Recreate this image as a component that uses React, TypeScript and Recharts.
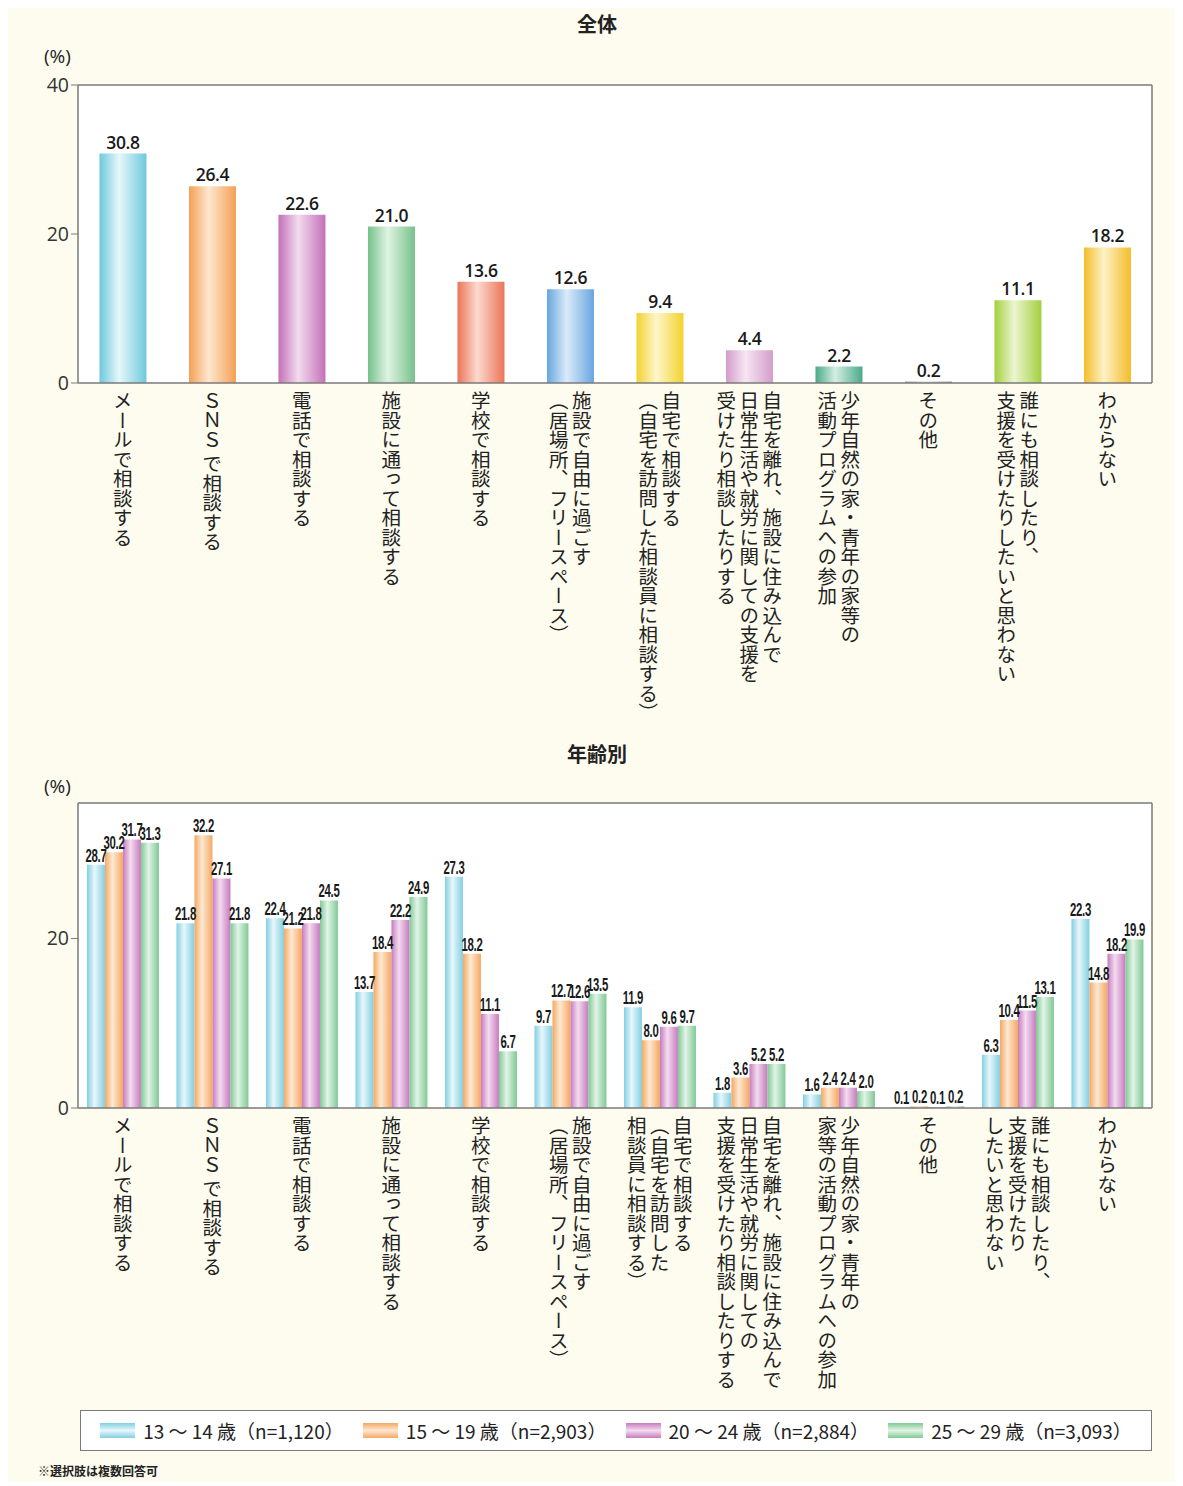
import { BarChart, Bar, XAxis, YAxis, Cell, LabelList, CartesianGrid } from 'recharts';

// 全体
const TOP_CATEGORIES = [
  'メールで相談する',
  'ＳＮＳ で相談する',
  '電話で相談する',
  '施設に通って相談する',
  '学校で相談する',
  '施設で自由に過ごす\n（居場所、フリースペース）',
  '自宅で相談する\n（自宅を訪問した相談員に相談する）',
  '自宅を離れ、施設に住み込んで\n日常生活や就労に関しての支援を\n受けたり相談したりする',
  '少年自然の家・青年の家等の\n活動プログラムへの参加',
  'その他',
  '誰にも相談したり、\n支援を受けたりしたいと思わない',
  'わからない',
];
const TOP_VALUES = [30.8, 26.4, 22.6, 21.0, 13.6, 12.6, 9.4, 4.4, 2.2, 0.2, 11.1, 18.2];
const TOP_COLORS = [
  ['#6ec9dc', '#e6f7fb'],
  ['#f4a055', '#fde7cf'],
  ['#c470b8', '#f2dbee'],
  ['#76c28a', '#e0f3e4'],
  ['#eb7457', '#fcdacf'],
  ['#67a6e0', '#dbebfa'],
  ['#f3d22e', '#fdf6ca'],
  ['#d49ccb', '#f6e6f3'],
  ['#4aa98a', '#d4efe4'],
  ['#999999', '#dddddd'],
  ['#a3cf3e', '#ecf6d1'],
  ['#f4bd2a', '#fdf1c6'],
];
const TOP_TICKS = [0, 20, 40];

// 年齢別
const AGE_CATEGORIES = [
  'メールで相談する',
  'ＳＮＳ で相談する',
  '電話で相談する',
  '施設に通って相談する',
  '学校で相談する',
  '施設で自由に過ごす\n（居場所、フリースペース）',
  '自宅で相談する\n（自宅を訪問した\n相談員に相談する）',
  '自宅を離れ、施設に住み込んで\n日常生活や就労に関しての\n支援を受けたり相談したりする',
  '少年自然の家・青年の\n家等の活動プログラムへの参加',
  'その他',
  '誰にも相談したり、\n支援を受けたり\nしたいと思わない',
  'わからない',
];
const AGE_13_14 = [28.7, 21.8, 22.4, 13.7, 27.3, 9.7, 11.9, 1.8, 1.6, 0.1, 6.3, 22.3];
const AGE_15_19 = [30.2, 32.2, 21.2, 18.4, 18.2, 12.7, 8.0, 3.6, 2.4, 0.2, 10.4, 14.8];
const AGE_20_24 = [31.7, 27.1, 21.8, 22.2, 11.1, 12.6, 9.6, 5.2, 2.4, 0.1, 11.5, 18.2];
const AGE_25_29 = [31.3, 21.8, 24.5, 24.9, 6.7, 13.5, 9.7, 5.2, 2.0, 0.2, 13.1, 19.9];
const AGE_KEYS = ['a1314', 'a1519', 'a2024', 'a2529'];
const AGE_LABELS = ['13 ～ 14 歳（n=1,120）', '15 ～ 19 歳（n=2,903）', '20 ～ 24 歳（n=2,884）', '25 ～ 29 歳（n=3,093）'];
const AGE_COLORS = [
  ['#82cfe2', '#e8f7fb'],
  ['#f5a862', '#fde9d3'],
  ['#c77bbf', '#f3dcef'],
  ['#80c995', '#e2f4e7'],
];
const AGE_TICKS = [0, 20];

const topData = TOP_CATEGORIES.map((name, i) => ({ name, value: TOP_VALUES[i] }));
const ageData = AGE_CATEGORIES.map((name, i) => ({
  name,
  a1314: AGE_13_14[i],
  a1519: AGE_15_19[i],
  a2024: AGE_20_24[i],
  a2529: AGE_25_29[i],
}));

const JP = '"Noto Sans CJK JP", "Noto Sans", sans-serif';
const FRAME = '#7a7a7a';

function VerticalTick(props: any) {
  const { x, y, payload } = props;
  const lines = String(payload.value).split('\n');
  const gap = 23;
  const n = lines.length;
  return (
    <g>
      {lines.map((line, i) => (
        <text key={i} x={x + ((n - 1) / 2 - i) * gap} y={y + 8}
              style={{ writingMode: 'vertical-rl' }}
              fontSize={19.5} fill="#222" fontFamily={JP}>
          {line}
        </text>
      ))}
    </g>
  );
}

const TopValueLabel = (props: any) => {
  const { x, y, width, value } = props;
  return (
    <text x={Number(x) + Number(width) / 2} y={Number(y) - 5} textAnchor="middle"
          fontSize={17.5} fontWeight={600} fill="#1a1a1a" fontFamily='"Open Sans", sans-serif'
          letterSpacing={-0.4}>
      {Number(value).toFixed(1)}
    </text>
  );
};

const AgeValueLabel = (props: any) => {
  const { x, y, width, value } = props;
  const cx = Number(x) + Number(width) / 2;
  return (
    <text transform={`translate(${cx},${Number(y) - 3}) scale(0.6,1)`} textAnchor="middle"
          fontSize={19} fontWeight={600} fill="#1a1a1a" fontFamily='"Liberation Sans", Arial, sans-serif'
          letterSpacing={-0.5}>
      {Number(value).toFixed(1)}
    </text>
  );
};

const gradient = (id: string, [edge, light]: string[]) => (
  <linearGradient key={id} id={id} x1="0" y1="0" x2="1" y2="0">
    <stop offset="0%" stopColor={edge} />
    <stop offset="42%" stopColor={light} />
    <stop offset="100%" stopColor={edge} />
  </linearGradient>
);

const yTick = { fontSize: 19.5, fill: '#333', fontFamily: '"Open Sans", sans-serif' };

export default function App() {
  return (
    <div style={{ position: 'relative', width: 1167, height: 1474, background: '#fdfcef', fontFamily: JP, color: '#222' }}>
      <div style={{ position: 'absolute', left: 0, top: 1, width: 1178, textAlign: 'center', fontSize: 20, fontWeight: 700 }}>全体</div>
      <div style={{ position: 'absolute', left: 36, top: 35, fontSize: 19, fontFamily: '"Open Sans", sans-serif' }}>(%)</div>

      <div style={{ position: 'absolute', left: 0, top: 0 }}>
        <BarChart width={1167} height={718} data={topData} barCategoryGap="24%"
                  margin={{ top: 76, right: 22, left: 0, bottom: 0 }}>
          <defs>{TOP_COLORS.map((c, i) => gradient(`top-g-${i}`, c))}</defs>
          <CartesianGrid fill="#fff" horizontal={false} vertical={false} />
          <XAxis dataKey="name" interval={0} height={343} tickLine={false} tickSize={0} tickMargin={0}
                 axisLine={{ stroke: FRAME, strokeWidth: 1.5 }} tick={(p: any) => <VerticalTick {...p} />} />
          <XAxis xAxisId="top" orientation="top" dataKey="name" height={1} tick={false} tickLine={false}
                 axisLine={{ stroke: FRAME, strokeWidth: 1.5 }} />
          <YAxis domain={[0, 40]} ticks={TOP_TICKS} width={70} tickSize={7} tickMargin={2}
                 tick={yTick} tickLine={{ stroke: FRAME }} axisLine={{ stroke: FRAME, strokeWidth: 1.5 }} />
          <YAxis yAxisId="right" orientation="right" domain={[0, 40]} width={1} tick={false} tickLine={false}
                 axisLine={{ stroke: FRAME, strokeWidth: 1.5 }} />
          <Bar dataKey="value" isAnimationActive={false}>
            {topData.map((_, i) => <Cell key={i} fill={`url(#top-g-${i})`} />)}
            <LabelList dataKey="value" content={TopValueLabel} />
          </Bar>
        </BarChart>
      </div>

      <div style={{ position: 'absolute', left: 0, top: 731, width: 1178, textAlign: 'center', fontSize: 20, fontWeight: 700 }}>年齢別</div>
      <div style={{ position: 'absolute', left: 36, top: 765, fontSize: 19, fontFamily: '"Open Sans", sans-serif' }}>(%)</div>

      <div style={{ position: 'absolute', left: 0, top: 722 }}>
        <BarChart width={1167} height={678} data={ageData} barCategoryGap="10%" barGap={0}
                  margin={{ top: 72, right: 22, left: 0, bottom: 0 }}>
          <defs>{AGE_COLORS.map((c, i) => gradient(`age-g-${i}`, c))}</defs>
          <CartesianGrid fill="#fff" horizontal={false} vertical={false} />
          <XAxis dataKey="name" interval={0} height={300} tickLine={false} tickSize={0} tickMargin={0}
                 axisLine={{ stroke: FRAME, strokeWidth: 1.5 }} tick={(p: any) => <VerticalTick {...p} />} />
          <XAxis xAxisId="top" orientation="top" dataKey="name" height={1} tick={false} tickLine={false}
                 axisLine={{ stroke: FRAME, strokeWidth: 1.5 }} />
          <YAxis domain={[0, 36]} ticks={AGE_TICKS} width={70} tickSize={7} tickMargin={2}
                 tick={yTick} tickLine={{ stroke: FRAME }} axisLine={{ stroke: FRAME, strokeWidth: 1.5 }} />
          <YAxis yAxisId="right" orientation="right" domain={[0, 36]} width={1} tick={false} tickLine={false}
                 axisLine={{ stroke: FRAME, strokeWidth: 1.5 }} />
          {AGE_KEYS.map((k, i) => (
            <Bar key={k} dataKey={k} name={AGE_LABELS[i]} fill={`url(#age-g-${i})`} isAnimationActive={false}>
              <LabelList dataKey={k} content={AgeValueLabel} />
            </Bar>
          ))}
        </BarChart>
      </div>

      <div style={{
        position: 'absolute', left: 72, top: 1402, width: 1072, height: 41, boxSizing: 'border-box',
        background: '#fff', border: `1.5px solid ${FRAME}`, display: 'flex', alignItems: 'center',
        justifyContent: 'space-evenly', fontSize: 19,
      }}>
        {AGE_LABELS.map((label, i) => (
          <div key={label} style={{ display: 'flex', alignItems: 'center', gap: 8 }}>
            <span style={{
              display: 'inline-block', width: 35, height: 15,
              background: `linear-gradient(to bottom, ${AGE_COLORS[i][0]}, ${AGE_COLORS[i][1]} 50%, ${AGE_COLORS[i][0]})`,
            }} />
            <span>{label}</span>
          </div>
        ))}
      </div>

      <div style={{ position: 'absolute', left: 30, top: 1455, fontSize: 12, fontWeight: 700, lineHeight: '16px' }}>※選択肢は複数回答可</div>
    </div>
  );
}
